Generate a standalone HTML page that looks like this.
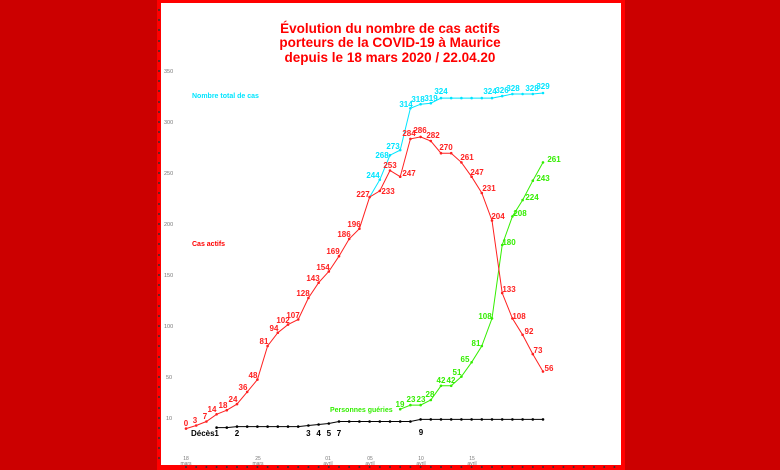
<!DOCTYPE html>
<html><head><meta charset="utf-8"><style>
html,body{margin:0;padding:0;background:#cc0000;}
svg{display:block;font-family:"Liberation Sans",Arial,sans-serif;}
</style></head><body>
<svg width="780" height="470" viewBox="0 0 780 470" xmlns="http://www.w3.org/2000/svg">
<rect x="0" y="0" width="780" height="470" fill="#cc0000"/>
<rect x="157" y="0" width="468" height="470" fill="#ff0000"/>
<rect x="161" y="3" width="460" height="462" fill="#ffffff"/>
<!-- left ticks -->
<g fill="#333">
<circle cx="159" cy="10" r="1"/><circle cx="159" cy="20" r="1"/><circle cx="159" cy="30" r="1"/><circle cx="159" cy="41" r="1"/><circle cx="159" cy="51" r="1"/><circle cx="159" cy="61" r="1"/><circle cx="159" cy="71" r="1"/><circle cx="159" cy="81" r="1"/><circle cx="159" cy="91" r="1"/><circle cx="159" cy="102" r="1"/><circle cx="159" cy="112" r="1"/><circle cx="159" cy="122" r="1"/><circle cx="159" cy="132" r="1"/><circle cx="159" cy="142" r="1"/><circle cx="159" cy="153" r="1"/><circle cx="159" cy="163" r="1"/><circle cx="159" cy="173" r="1"/><circle cx="159" cy="183" r="1"/><circle cx="159" cy="193" r="1"/><circle cx="159" cy="204" r="1"/><circle cx="159" cy="214" r="1"/><circle cx="159" cy="224" r="1"/><circle cx="159" cy="234" r="1"/><circle cx="159" cy="244" r="1"/><circle cx="159" cy="255" r="1"/><circle cx="159" cy="265" r="1"/><circle cx="159" cy="275" r="1"/><circle cx="159" cy="285" r="1"/><circle cx="159" cy="295" r="1"/><circle cx="159" cy="306" r="1"/><circle cx="159" cy="316" r="1"/><circle cx="159" cy="326" r="1"/><circle cx="159" cy="336" r="1"/><circle cx="159" cy="346" r="1"/><circle cx="159" cy="357" r="1"/><circle cx="159" cy="367" r="1"/><circle cx="159" cy="377" r="1"/><circle cx="159" cy="387" r="1"/><circle cx="159" cy="397" r="1"/><circle cx="159" cy="408" r="1"/><circle cx="159" cy="418" r="1"/><circle cx="159" cy="428" r="1"/><circle cx="159" cy="438" r="1"/><circle cx="159" cy="448" r="1"/><circle cx="159" cy="458" r="1"/>
</g>
<!-- bottom ticks -->
<g fill="#333">
<circle cx="186" cy="467" r="1"/><circle cx="196.2" cy="467" r="1"/><circle cx="206.4" cy="467" r="1"/><circle cx="216.6" cy="467" r="1"/><circle cx="226.8" cy="467" r="1"/><circle cx="237" cy="467" r="1"/><circle cx="247.2" cy="467" r="1"/><circle cx="257.4" cy="467" r="1"/><circle cx="267.6" cy="467" r="1"/><circle cx="277.8" cy="467" r="1"/><circle cx="288" cy="467" r="1"/><circle cx="298.2" cy="467" r="1"/><circle cx="308.4" cy="467" r="1"/><circle cx="318.6" cy="467" r="1"/><circle cx="328.8" cy="467" r="1"/><circle cx="339" cy="467" r="1"/><circle cx="349.2" cy="467" r="1"/><circle cx="359.4" cy="467" r="1"/><circle cx="369.6" cy="467" r="1"/><circle cx="379.8" cy="467" r="1"/><circle cx="390" cy="467" r="1"/><circle cx="400.2" cy="467" r="1"/><circle cx="410.4" cy="467" r="1"/><circle cx="420.6" cy="467" r="1"/><circle cx="430.8" cy="467" r="1"/><circle cx="441" cy="467" r="1"/><circle cx="451.2" cy="467" r="1"/><circle cx="461.4" cy="467" r="1"/><circle cx="471.6" cy="467" r="1"/><circle cx="481.8" cy="467" r="1"/><circle cx="492" cy="467" r="1"/><circle cx="502.2" cy="467" r="1"/><circle cx="512.4" cy="467" r="1"/><circle cx="522.6" cy="467" r="1"/><circle cx="532.8" cy="467" r="1"/><circle cx="543" cy="467" r="1"/><circle cx="553.2" cy="467" r="1"/><circle cx="563.4" cy="467" r="1"/><circle cx="573.6" cy="467" r="1"/><circle cx="583.8" cy="467" r="1"/><circle cx="594" cy="467" r="1"/><circle cx="604.2" cy="467" r="1"/><circle cx="614.4" cy="467" r="1"/>
</g>
<!-- title -->
<g fill="#ff0000" font-weight="bold" font-size="13.5" text-anchor="middle">
<text x="390" y="33">Évolution du nombre de cas actifs</text>
<text x="390" y="47">porteurs de la COVID-19 à Maurice</text>
<text x="390" y="62">depuis le 18 mars 2020  /  22.04.20</text>
</g>
<!-- y labels -->
<g fill="#777" font-size="5.5">
<text x="164" y="73">350</text><text x="164" y="124">300</text><text x="164" y="175">250</text><text x="164" y="226">200</text><text x="164" y="277">150</text><text x="164" y="328">100</text><text x="166" y="379">50</text><text x="166" y="420">10</text>
</g>
<!-- x labels -->
<g fill="#777" font-size="5" text-anchor="middle">
<text x="186" y="460">18</text><text x="186" y="465">mars</text>
<text x="258" y="460">25</text><text x="258" y="465">mars</text>
<text x="328" y="460">01</text><text x="328" y="465">avril</text>
<text x="370" y="460">05</text><text x="370" y="465">avril</text>
<text x="421" y="460">10</text><text x="421" y="465">avril</text>
<text x="472" y="460">15</text><text x="472" y="465">avril</text>
</g>
<!-- legend labels -->
<g font-size="7" font-weight="bold">
<text x="192" y="98" fill="#00e5ff">Nombre total de cas</text>
<text x="192" y="246" fill="#ff0000">Cas actifs</text>
<text x="330" y="412" fill="#33ee00">Personnes guéries</text>
<text x="191" y="436" fill="#000" font-size="8">Décès</text>
</g>
<!-- deaths -->
<polyline fill="none" stroke="#000" stroke-width="1" points="216.6,427.6 226.8,427.6 237,426.6 247.2,426.6 257.4,426.6 267.6,426.6 277.8,426.6 288,426.6 298.2,426.6 308.4,425.5 318.6,424.5 328.8,423.5 339,421.5 349.2,421.5 359.4,421.5 369.6,421.5 379.8,421.5 390,421.5 400.2,421.5 410.4,421.5 420.6,419.4 430.8,419.4 441,419.4 451.2,419.4 461.4,419.4 471.6,419.4 481.8,419.4 492,419.4 502.2,419.4 512.4,419.4 522.6,419.4 532.8,419.4 543,419.4"/>
<g fill="#000">
<circle cx="216.6" cy="427.6" r="1.3"/><circle cx="226.8" cy="427.6" r="1.3"/><circle cx="237" cy="426.6" r="1.3"/><circle cx="247.2" cy="426.6" r="1.3"/><circle cx="257.4" cy="426.6" r="1.3"/><circle cx="267.6" cy="426.6" r="1.3"/><circle cx="277.8" cy="426.6" r="1.3"/><circle cx="288" cy="426.6" r="1.3"/><circle cx="298.2" cy="426.6" r="1.3"/><circle cx="308.4" cy="425.5" r="1.3"/><circle cx="318.6" cy="424.5" r="1.3"/><circle cx="328.8" cy="423.5" r="1.3"/><circle cx="339" cy="421.5" r="1.3"/><circle cx="349.2" cy="421.5" r="1.3"/><circle cx="359.4" cy="421.5" r="1.3"/><circle cx="369.6" cy="421.5" r="1.3"/><circle cx="379.8" cy="421.5" r="1.3"/><circle cx="390" cy="421.5" r="1.3"/><circle cx="400.2" cy="421.5" r="1.3"/><circle cx="410.4" cy="421.5" r="1.3"/><circle cx="420.6" cy="419.4" r="1.3"/><circle cx="430.8" cy="419.4" r="1.3"/><circle cx="441" cy="419.4" r="1.3"/><circle cx="451.2" cy="419.4" r="1.3"/><circle cx="461.4" cy="419.4" r="1.3"/><circle cx="471.6" cy="419.4" r="1.3"/><circle cx="481.8" cy="419.4" r="1.3"/><circle cx="492" cy="419.4" r="1.3"/><circle cx="502.2" cy="419.4" r="1.3"/><circle cx="512.4" cy="419.4" r="1.3"/><circle cx="522.6" cy="419.4" r="1.3"/><circle cx="532.8" cy="419.4" r="1.3"/><circle cx="543" cy="419.4" r="1.3"/>
</g>
<g fill="#000" font-size="8" font-weight="bold" text-anchor="middle">
<text x="216.6" y="436">1</text><text x="237" y="436">2</text><text x="308.4" y="436">3</text><text x="318.6" y="436">4</text><text x="328.8" y="436">5</text><text x="339" y="436">7</text><text x="421" y="435">9</text>
</g>
<!-- cyan total -->
<polyline fill="none" stroke="#00e5ff" stroke-width="1" points="369.6,197.1 379.8,179.7 390,155.2 400.2,150.1 410.4,108.3 420.6,104.2 430.8,103.2 441,98.1 451.2,98.1 461.4,98.1 471.6,98.1 481.8,98.1 492,98.1 502.2,96.1 512.4,94 522.6,94 532.8,94 543,93"/>
<g fill="#00e5ff">
<circle cx="379.8" cy="179.7" r="1.3"/><circle cx="390" cy="155.2" r="1.3"/><circle cx="400.2" cy="150.1" r="1.3"/><circle cx="410.4" cy="108.3" r="1.3"/><circle cx="420.6" cy="104.2" r="1.3"/><circle cx="430.8" cy="103.2" r="1.3"/><circle cx="441" cy="98.1" r="1.3"/><circle cx="451.2" cy="98.1" r="1.3"/><circle cx="461.4" cy="98.1" r="1.3"/><circle cx="471.6" cy="98.1" r="1.3"/><circle cx="481.8" cy="98.1" r="1.3"/><circle cx="492" cy="98.1" r="1.3"/><circle cx="502.2" cy="96.1" r="1.3"/><circle cx="512.4" cy="94" r="1.3"/><circle cx="522.6" cy="94" r="1.3"/><circle cx="532.8" cy="94" r="1.3"/><circle cx="543" cy="93" r="1.3"/>
</g>
<g fill="#00e5ff" font-size="8" font-weight="bold" text-anchor="middle">
<text x="373" y="178">244</text><text x="382" y="158">268</text><text x="393" y="149">273</text><text x="406" y="107">314</text><text x="418" y="102">318</text><text x="431" y="101">319</text><text x="441" y="94">324</text><text x="490" y="94">324</text><text x="502" y="93">326</text><text x="513" y="91">328</text><text x="532" y="91">328</text><text x="543" y="89">329</text>
</g>
<!-- green recovered -->
<polyline fill="none" stroke="#33ee00" stroke-width="1" points="400.2,409.2 410.4,405.1 420.6,405.1 430.8,400 441,385.8 451.2,385.8 461.4,376.6 471.6,362.3 481.8,346 492,318.4 502.2,245 512.4,216.4 522.6,200.1 532.8,180.7 543,162.4"/>
<g fill="#33ee00">
<circle cx="400.2" cy="409.2" r="1.3"/><circle cx="410.4" cy="405.1" r="1.3"/><circle cx="420.6" cy="405.1" r="1.3"/><circle cx="430.8" cy="400" r="1.3"/><circle cx="441" cy="385.8" r="1.3"/><circle cx="451.2" cy="385.8" r="1.3"/><circle cx="461.4" cy="376.6" r="1.3"/><circle cx="471.6" cy="362.3" r="1.3"/><circle cx="481.8" cy="346" r="1.3"/><circle cx="492" cy="318.4" r="1.3"/><circle cx="502.2" cy="245" r="1.3"/><circle cx="512.4" cy="216.4" r="1.3"/><circle cx="522.6" cy="200.1" r="1.3"/><circle cx="532.8" cy="180.7" r="1.3"/><circle cx="543" cy="162.4" r="1.3"/>
</g>
<g fill="#33ee00" font-size="8" font-weight="bold" text-anchor="middle">
<text x="400" y="407">19</text><text x="411" y="402">23</text><text x="421" y="402">23</text><text x="430" y="397">28</text><text x="441" y="383">42</text><text x="451" y="383">42</text><text x="457" y="375">51</text><text x="465" y="362">65</text><text x="476" y="346">81</text><text x="485" y="319">108</text><text x="509" y="245">180</text><text x="520" y="216">208</text><text x="532" y="200">224</text><text x="543" y="181">243</text><text x="554" y="162">261</text>
</g>
<!-- red active -->
<polyline fill="none" stroke="#ff2020" stroke-width="1" points="186,428.6 196.2,425.5 206.4,421.5 216.6,414.3 226.8,410.2 237,404.1 247.2,391.9 257.4,379.6 267.6,346 277.8,332.7 288,324.6 298.2,319.5 308.4,298 318.6,282.7 328.8,271.5 339,256.2 349.2,238.9 359.4,228.7 369.6,197.1 379.8,190.9 390,170.5 400.2,176.7 410.4,138.9 420.6,136.9 430.8,141 441,153.2 451.2,153.2 461.4,162.4 471.6,176.7 481.8,193 492,220.5 502.2,293 512.4,318.4 522.6,334.8 532.8,354.1 543,371.5"/>
<g fill="#ff2020">
<circle cx="186" cy="428.6" r="1.3"/><circle cx="196.2" cy="425.5" r="1.3"/><circle cx="206.4" cy="421.5" r="1.3"/><circle cx="216.6" cy="414.3" r="1.3"/><circle cx="226.8" cy="410.2" r="1.3"/><circle cx="237" cy="404.1" r="1.3"/><circle cx="247.2" cy="391.9" r="1.3"/><circle cx="257.4" cy="379.6" r="1.3"/><circle cx="267.6" cy="346" r="1.3"/><circle cx="277.8" cy="332.7" r="1.3"/><circle cx="288" cy="324.6" r="1.3"/><circle cx="298.2" cy="319.5" r="1.3"/><circle cx="308.4" cy="298" r="1.3"/><circle cx="318.6" cy="282.7" r="1.3"/><circle cx="328.8" cy="271.5" r="1.3"/><circle cx="339" cy="256.2" r="1.3"/><circle cx="349.2" cy="238.9" r="1.3"/><circle cx="359.4" cy="228.7" r="1.3"/><circle cx="369.6" cy="197.1" r="1.3"/><circle cx="379.8" cy="190.9" r="1.3"/><circle cx="390" cy="170.5" r="1.3"/><circle cx="400.2" cy="176.7" r="1.3"/><circle cx="410.4" cy="138.9" r="1.3"/><circle cx="420.6" cy="136.9" r="1.3"/><circle cx="430.8" cy="141" r="1.3"/><circle cx="441" cy="153.2" r="1.3"/><circle cx="451.2" cy="153.2" r="1.3"/><circle cx="461.4" cy="162.4" r="1.3"/><circle cx="471.6" cy="176.7" r="1.3"/><circle cx="481.8" cy="193" r="1.3"/><circle cx="492" cy="220.5" r="1.3"/><circle cx="502.2" cy="293" r="1.3"/><circle cx="512.4" cy="318.4" r="1.3"/><circle cx="522.6" cy="334.8" r="1.3"/><circle cx="532.8" cy="354.1" r="1.3"/><circle cx="543" cy="371.5" r="1.3"/>
</g>
<g fill="#ff2020" font-size="8" font-weight="bold" text-anchor="middle">
<text x="186" y="426">0</text><text x="195" y="423">3</text><text x="205" y="419">7</text><text x="212" y="412">14</text><text x="223" y="408">18</text><text x="233" y="402">24</text><text x="243" y="390">36</text><text x="253" y="378">48</text><text x="264" y="344">81</text><text x="274" y="331">94</text><text x="283" y="323">102</text><text x="293" y="318">107</text><text x="303" y="296">128</text><text x="313" y="281">143</text><text x="323" y="270">154</text><text x="333" y="254">169</text><text x="344" y="237">186</text><text x="354" y="227">196</text><text x="363" y="197">227</text><text x="388" y="194">233</text><text x="390" y="168">253</text><text x="409" y="176">247</text><text x="409" y="136">284</text><text x="420" y="133">286</text><text x="433" y="138">282</text><text x="446" y="150">270</text><text x="467" y="160">261</text><text x="477" y="175">247</text><text x="489" y="191">231</text><text x="498" y="219">204</text><text x="509" y="292">133</text><text x="519" y="319">108</text><text x="529" y="334">92</text><text x="538" y="353">73</text><text x="549" y="371">56</text>
</g>
</svg>
</body></html>
